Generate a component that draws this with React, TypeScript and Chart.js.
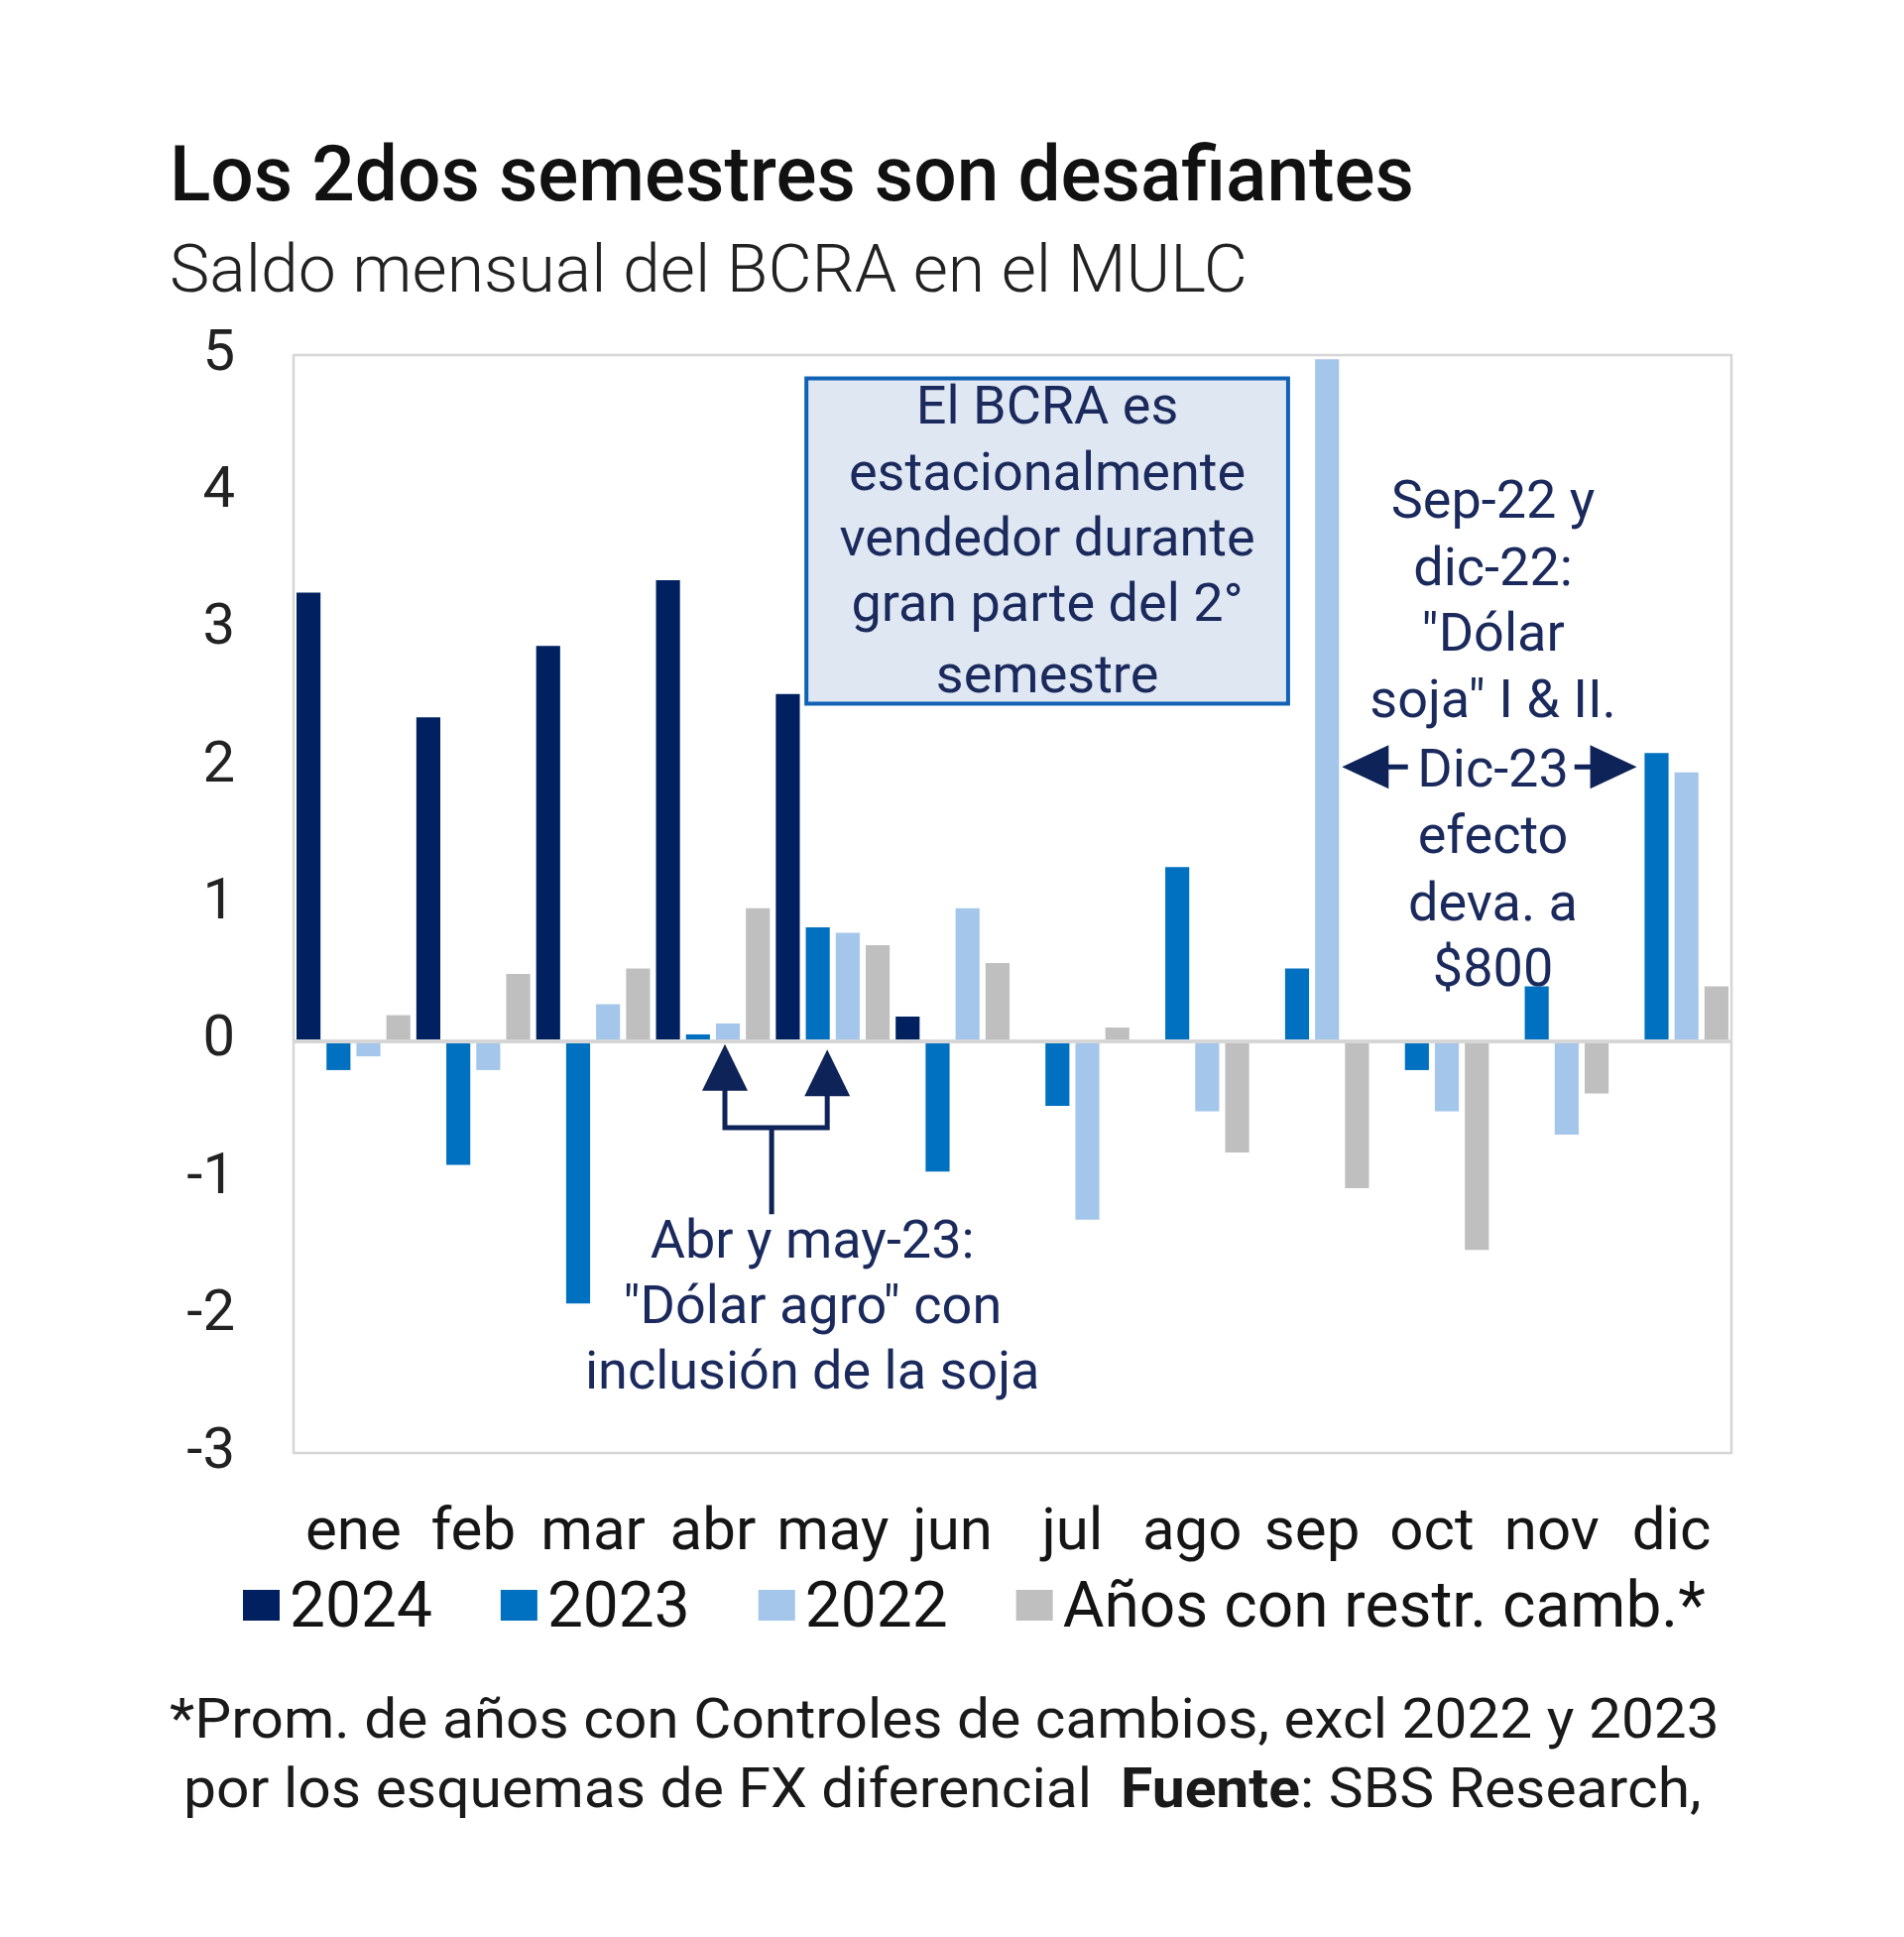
import React, { useEffect, useLayoutEffect, useRef, useState } from 'react';
import { Chart, registerables } from 'chart.js';

Chart.register(...registerables);

// ---------- data ----------
const MONTHS = ['ene', 'feb', 'mar', 'abr', 'may', 'jun', 'jul', 'ago', 'sep', 'oct', 'nov', 'dic'];
const S2024 = [3.27, 2.36, 2.88, 3.36, 2.53, 0.18, null, null, null, null, null, null];
const S2023 = [-0.21, -0.9, -1.91, 0.05, 0.83, -0.95, -0.47, 1.27, 0.53, -0.21, 0.4, 2.1];
const S2022 = [-0.11, -0.21, 0.27, 0.13, 0.79, 0.97, -1.3, -0.51, 4.97, -0.51, -0.68, 1.96];
const SRESTR = [0.19, 0.49, 0.53, 0.97, 0.7, 0.57, 0.1, -0.81, -1.07, -1.52, -0.38, 0.4];
const SERIES_LABELS = ['2024', '2023', '2022', 'Años con restr. camb.*'];
const SERIES_COLORS = ['#002060', '#0070c0', '#a4c6eb', '#bfbfbf'];
const Y_MIN = -3;
const Y_MAX = 5;
const Y_STEP = 1;

const TITLE = 'Los 2dos semestres son desafiantes';
const SUBTITLE = 'Saldo mensual del BCRA en el MULC';
const FOOT1 = '*Prom. de años con Controles de cambios, excl 2022 y 2023';
const FOOT2A = 'por los esquemas de FX diferencial  ';
const FOOT2B = 'Fuente';
const FOOT2C = ': SBS Research,';

const BOX_TEXT = ['El BCRA es', 'estacionalmente', 'vendedor durante', 'gran parte del 2°', 'semestre'];
const SOJA_TEXT = ['Sep-22 y', 'dic-22:', '"Dólar', 'soja" I & II.', 'Dic-23', 'efecto', 'deva. a', '$800'];
const AGRO_TEXT = ['Abr y may-23:', '"Dólar agro" con', 'inclusión de la soja'];

const FONT = 'Roboto, "Noto Sans", Arial, sans-serif';
const NAVY = '#0e2358';
const ANNOT_COLOR = '#1b2a5c';

// ---------- plugins ----------
const framePlugin = {
  id: 'frameZero',
  beforeDatasetsDraw(chart: any) {
    const { ctx, chartArea: a } = chart;
    ctx.save();
    ctx.strokeStyle = '#d6d6d6';
    ctx.lineWidth = 2.5;
    ctx.strokeRect(a.left, a.top, a.width, a.height);
    ctx.restore();
  },
  afterDatasetsDraw(chart: any) {
    const { ctx, chartArea: a, scales } = chart;
    const y0 = scales.y.getPixelForValue(0);
    ctx.save();
    ctx.strokeStyle = '#d6d6d6';
    ctx.lineWidth = 4;
    ctx.beginPath();
    ctx.moveTo(a.left, y0);
    ctx.lineTo(a.right, y0);
    ctx.stroke();
    ctx.restore();
  },
};

function arrowHead(ctx: any, tipX: number, tipY: number, dir: 'up' | 'left' | 'right', len: number, half: number) {
  ctx.beginPath();
  if (dir === 'up') {
    ctx.moveTo(tipX, tipY);
    ctx.lineTo(tipX - half, tipY + len);
    ctx.lineTo(tipX + half, tipY + len);
  } else if (dir === 'left') {
    ctx.moveTo(tipX, tipY);
    ctx.lineTo(tipX + len, tipY - half);
    ctx.lineTo(tipX + len, tipY + half);
  } else {
    ctx.moveTo(tipX, tipY);
    ctx.lineTo(tipX - len, tipY - half);
    ctx.lineTo(tipX - len, tipY + half);
  }
  ctx.closePath();
  ctx.fill();
}

const annotationPlugin = {
  id: 'annotations',
  afterDraw(chart: any) {
    const { ctx, chartArea: a, scales } = chart;
    const cw = a.width / MONTHS.length;
    const X = (c: number) => a.left + c * cw;
    const Y = (v: number) => scales.y.getPixelForValue(v);
    ctx.save();

    // box
    const bx0 = X(4.28), bx1 = X(8.3), by0 = Y(4.83), by1 = Y(2.46);
    ctx.fillStyle = '#dfe7f2';
    ctx.fillRect(bx0, by0, bx1 - bx0, by1 - by0);
    ctx.strokeStyle = '#0f62b4';
    ctx.lineWidth = 4;
    ctx.strokeRect(bx0, by0, bx1 - bx0, by1 - by0);

    ctx.font = `54px ${FONT}`;
    ctx.fillStyle = ANNOT_COLOR;
    ctx.textAlign = 'center';
    ctx.textBaseline = 'alphabetic';
    const boxBase = [4.5, 4.02, 3.54, 3.06, 2.54];
    BOX_TEXT.forEach((t, i) => ctx.fillText(t, X(6.29), Y(boxBase[i])));

    const sojaBase = [3.815, 3.324, 2.847, 2.363, 1.857, 1.373, 0.881, 0.405];
    SOJA_TEXT.forEach((t, i) => ctx.fillText(t, X(10.01), Y(sojaBase[i])));

    const agroBase = [-1.575, -2.05, -2.53];
    AGRO_TEXT.forEach((t, i) => ctx.fillText(t, X(4.33), Y(agroBase[i])));

    // horizontal arrows around "Dic-23"
    ctx.fillStyle = NAVY;
    ctx.strokeStyle = NAVY;
    ctx.lineWidth = 5;
    const ay = Y(2.0);
    ctx.beginPath();
    ctx.moveTo(X(9.1), ay);
    ctx.lineTo(X(9.3), ay);
    ctx.moveTo(X(10.69), ay);
    ctx.lineTo(X(10.9), ay);
    ctx.stroke();
    arrowHead(ctx, X(8.75), ay, 'left', 47, 22);
    arrowHead(ctx, X(11.21), ay, 'right', 47, 22);

    // bracket arrows for abr / may
    const lx = X(3.6), rx = X(4.454), mx = X(3.99);
    const hy = Y(-0.63);
    ctx.beginPath();
    ctx.moveTo(lx, Y(-0.3));
    ctx.lineTo(lx, hy);
    ctx.lineTo(rx, hy);
    ctx.lineTo(rx, Y(-0.34));
    ctx.moveTo(mx, hy);
    ctx.lineTo(mx, Y(-1.26));
    ctx.stroke();
    arrowHead(ctx, lx, Y(-0.02), 'up', 47, 23);
    arrowHead(ctx, rx, Y(-0.06), 'up', 47, 23);

    ctx.restore();
  },
};

const legendPlugin = {
  id: 'bottomLegend',
  afterDraw(chart: any) {
    const { ctx, chartArea: a } = chart;
    ctx.save();
    ctx.font = `64px ${FONT}`;
    ctx.textAlign = 'left';
    ctx.textBaseline = 'alphabetic';
    let x = a.left - 51;
    const boxTop = a.bottom + 138;
    const baseline = a.bottom + 175;
    chart.data.datasets.forEach((ds: any) => {
      ctx.fillStyle = ds.backgroundColor;
      ctx.fillRect(x, boxTop, 37, 31);
      x += 37 + 10;
      ctx.fillStyle = '#141414';
      ctx.fillText(ds.label, x, baseline);
      x += ctx.measureText(ds.label).width + 69;
    });
    ctx.restore();
  },
};

// ---------- text helper ----------
function FitText(props: { left: number; top: number; width: number; size: number; weight: number; color: string; children: any }) {
  const ref = useRef<HTMLSpanElement>(null);
  const [k, setK] = useState(1);
  useLayoutEffect(() => {
    const measure = () => {
      if (ref.current) {
        const w = ref.current.offsetWidth;
        if (w) setK(props.width / w);
      }
    };
    measure();
    const f: any = (document as any).fonts;
    if (f && f.ready) f.ready.then(measure);
  }, []);
  return (
    <span
      ref={ref}
      style={{
        position: 'absolute',
        left: props.left,
        top: props.top,
        display: 'inline-block',
        whiteSpace: 'pre',
        fontFamily: FONT,
        fontSize: props.size,
        fontWeight: props.weight,
        lineHeight: `${props.size}px`,
        color: props.color,
        transform: `scaleX(${k})`,
        transformOrigin: 'left top',
      }}
    >
      {props.children}
    </span>
  );
}

export default function App() {
  const canvasRef = useRef<HTMLCanvasElement>(null);

  useEffect(() => {
    const series = [S2024, S2023, S2022, SRESTR];
    const chart = new Chart(canvasRef.current as HTMLCanvasElement, {
      type: 'bar',
      data: {
        labels: MONTHS,
        datasets: series.map((d, i) => ({
          label: SERIES_LABELS[i],
          data: d,
          backgroundColor: SERIES_COLORS[i],
          borderWidth: 0,
          categoryPercentage: 1,
          barPercentage: 0.8,
        })),
      },
      options: {
        responsive: false,
        animation: false,
        devicePixelRatio: 1,
        layout: { padding: { top: 358, right: 174, bottom: 348, left: 0 } },
        plugins: {
          legend: { display: false },
          tooltip: { enabled: false },
          title: { display: false },
        },
        scales: {
          x: {
            grid: { display: false, drawTicks: false },
            border: { display: false },
            ticks: {
              font: { family: FONT, size: 60 },
              color: '#151515',
              padding: 46,
              maxRotation: 0,
              autoSkip: false,
            },
            afterFit: (s: any) => {
              s.height = 140;
            },
          },
          y: {
            min: Y_MIN,
            max: Y_MAX,
            ticks: {
              stepSize: Y_STEP,
              font: { family: FONT, size: 58 },
              color: '#222222',
              padding: 59,
            },
            grid: { display: false, drawTicks: false },
            border: { display: false },
            afterFit: (s: any) => {
              s.width = 296;
            },
          },
        },
      } as any,
      plugins: [framePlugin, annotationPlugin, legendPlugin],
    });
    return () => chart.destroy();
  }, []);

  return (
    <div style={{ position: 'absolute', left: 0, top: 0, width: 1920, height: 1953, background: '#ffffff', overflow: 'hidden' }}>
      <canvas ref={canvasRef} width={1920} height={1953} style={{ position: 'absolute', left: 0, top: 0, width: 1920, height: 1953 }} />
      <FitText left={171} top={203 - 66} width={1255} size={78} weight={500} color="#111111">
        {TITLE}
      </FitText>
      <FitText left={171} top={295 - 56} width={1087} size={66} weight={300} color="#222222">
        {SUBTITLE}
      </FitText>
      <FitText left={171} top={1752 - 47} width={1563} size={56} weight={400} color="#1a1a1a">
        {FOOT1}
      </FitText>
      <FitText left={185} top={1822 - 47} width={1531} size={56} weight={400} color="#1a1a1a">
        {FOOT2A}
        <b style={{ fontWeight: 700 }}>{FOOT2B}</b>
        {FOOT2C}
      </FitText>
    </div>
  );
}
